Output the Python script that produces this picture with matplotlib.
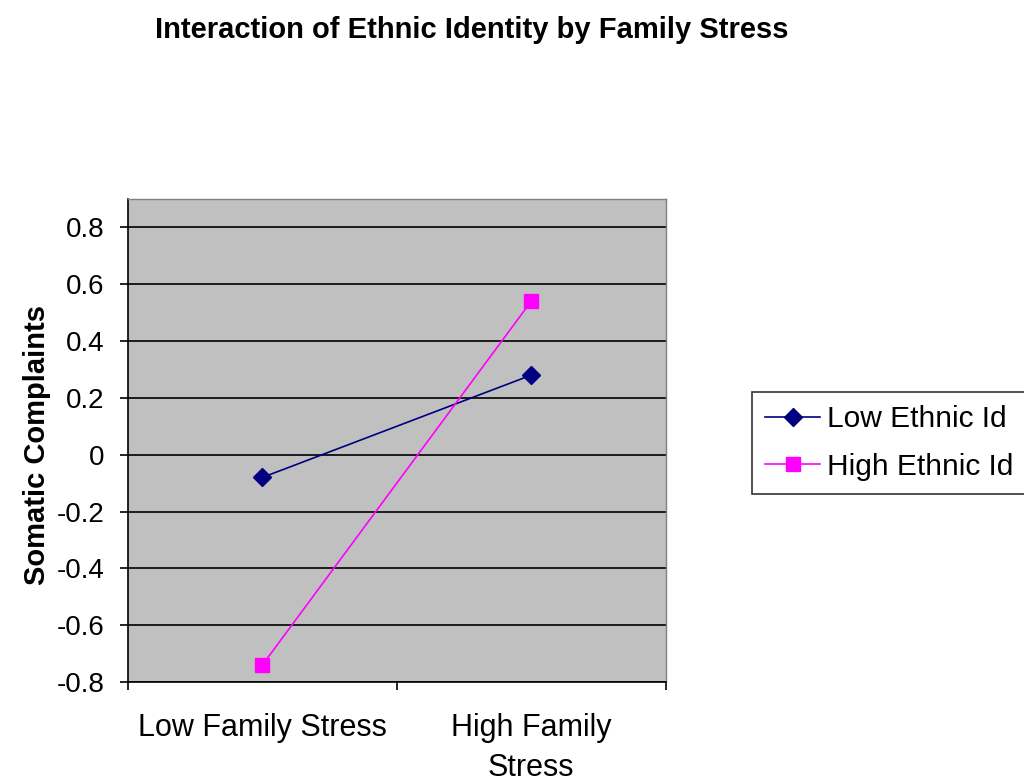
import matplotlib
matplotlib.use("Agg")
from matplotlib import pyplot as plt
from matplotlib.ticker import FixedLocator

plt.rcParams['font.family'] = ['Liberation Sans', 'DejaVu Sans']

categories = ["Low Family Stress", "High Family\nStress"]
low_ethnic = [-0.08, 0.28]
high_ethnic = [-0.74, 0.54]
y_ticks = [-0.8, -0.6, -0.4, -0.2, 0, 0.2, 0.4, 0.6, 0.8]
y_labels = ["-0.8", "-0.6", "-0.4", "-0.2", "0", "0.2", "0.4", "0.6", "0.8"]

fig = plt.figure(figsize=(10.24, 7.81), dpi=100)
ax = fig.add_axes([0.125, 0.1268, 0.525, 0.6184])
ax.set_facecolor('#C0C0C0')

x = list(range(len(categories)))
ax.plot(x, low_ethnic, color='#000080', lw=1.2, marker='D', ms=9,
        mec='#000080', mfc='#000080', label='Low Ethnic Id', zorder=3)
ax.plot(x, high_ethnic, color='#FF00FF', lw=1.2, marker='s', ms=9.5,
        mec='#FF00FF', mfc='#FF00FF', label='High Ethnic Id', zorder=3)

ax.set_xlim(-0.5, 1.5)
ax.set_ylim(-0.8, 0.9)

# gridlines at y ticks
for v in y_ticks:
    ax.axhline(v, color='black', lw=1.2, zorder=1)

ax.set_yticks(y_ticks)
ax.set_yticklabels(y_labels)
ax.tick_params(axis='y', direction='out', length=6, width=1.2, pad=11, labelsize=20)

ax.set_xticks(x)
ax.set_xticklabels(categories, linespacing=1.45)
ax.xaxis.set_minor_locator(FixedLocator([-0.5, 0.5, 1.5]))
ax.tick_params(axis='x', which='major', length=0, pad=22, labelsize=22)
ax.tick_params(axis='x', which='minor', direction='out', length=6, width=1.2)

for side in ['left', 'bottom']:
    ax.spines[side].set_color('black')
    ax.spines[side].set_linewidth(1.2)
for side in ['top', 'right']:
    ax.spines[side].set_color('#808080')
    ax.spines[side].set_linewidth(1.0)

fig.text(0.036, 0.43, "Somatic Complaints", rotation=90, ha='center', va='center',
         fontsize=21, fontweight='bold')

fig.text(0.461, 0.962, "Interaction of Ethnic Identity by Family Stress",
         ha='center', va='center', fontsize=21, fontweight='bold')

leg = fig.legend(loc='center left', bbox_to_anchor=(0.734, 0.433), fontsize=21.5,
                 frameon=True, fancybox=False, edgecolor='black',
                 handlelength=1.85, handletextpad=0.23, borderpad=0.45,
                 labelspacing=0.65, borderaxespad=0)
leg.get_frame().set_linewidth(1.2)

fig.savefig("out.png", dpi=100)
